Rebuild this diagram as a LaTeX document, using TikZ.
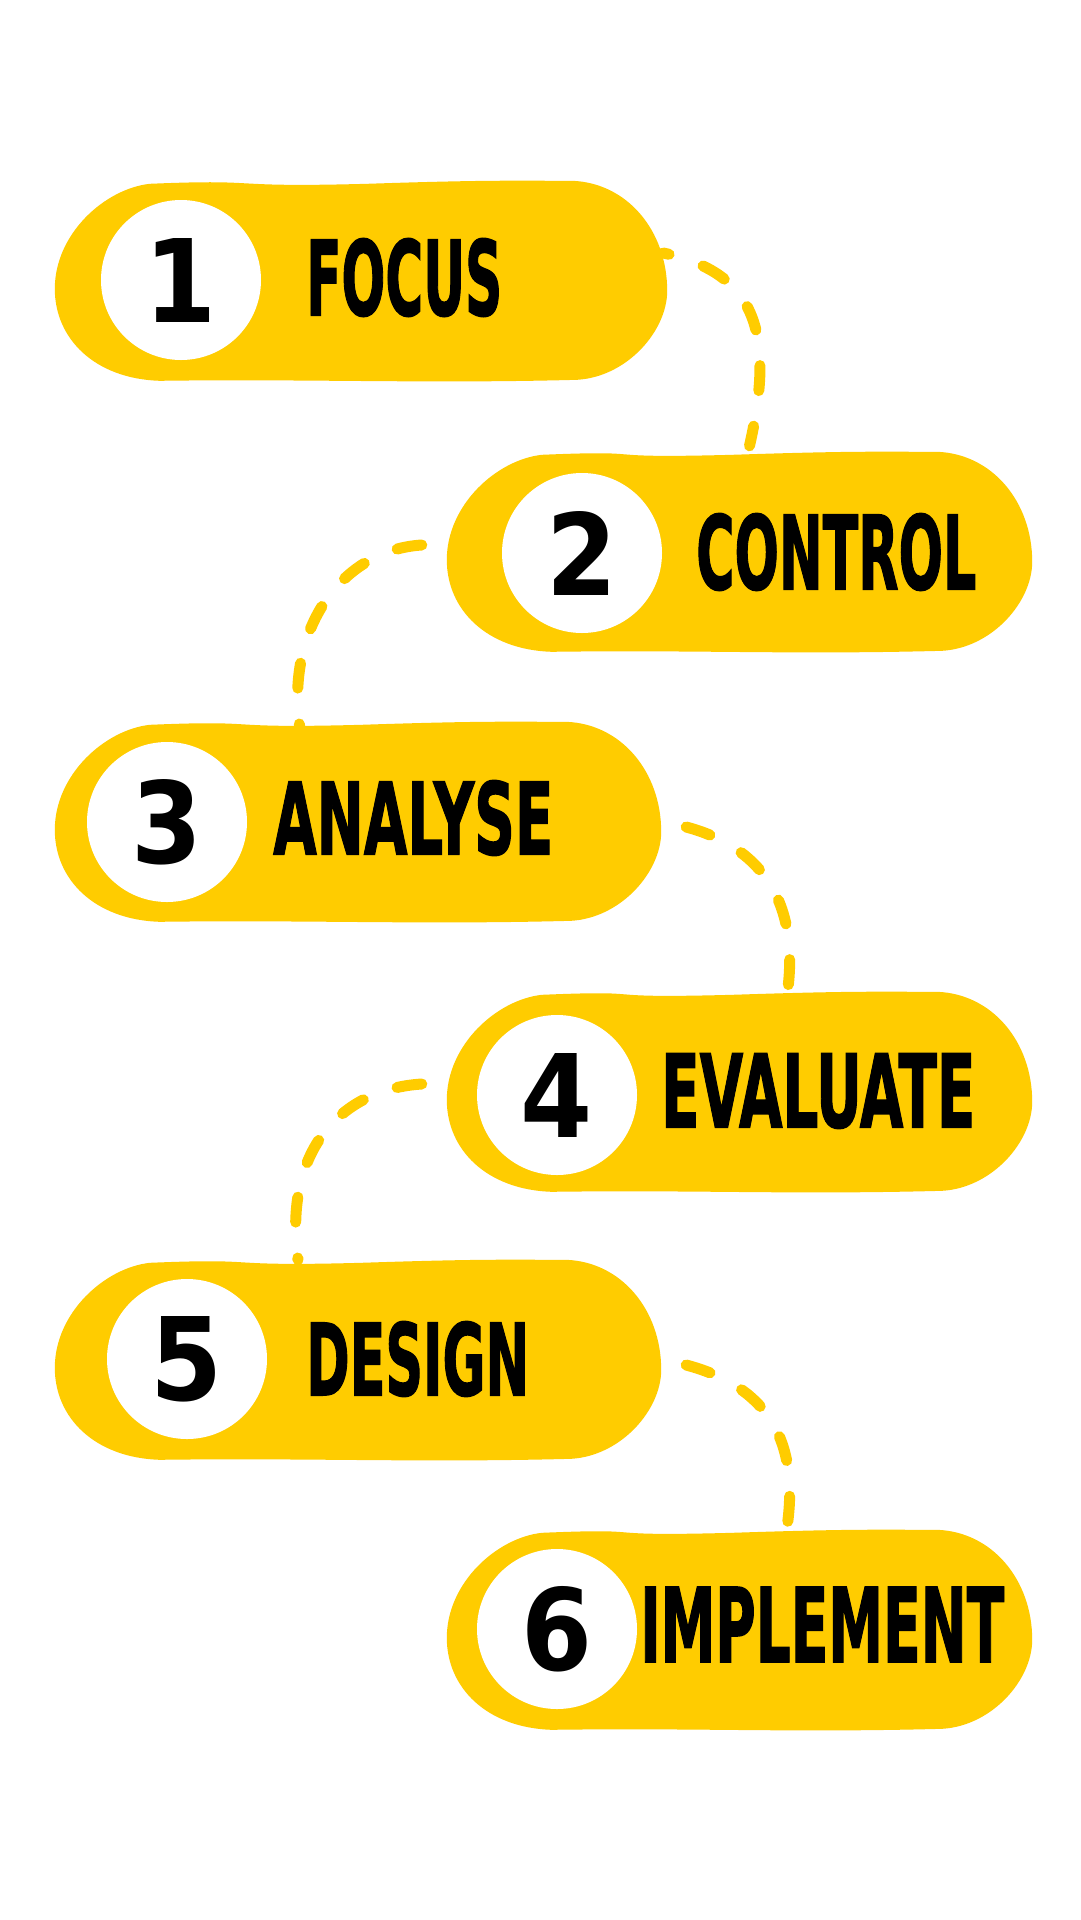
\documentclass[tikz,border=0pt]{standalone}
\usepackage{fontspec}
\usepackage{graphicx}
\newfontfamily\labelfont{DejaVu Sans Condensed}[BoldFeatures={FakeBold=1.5}]
\newfontfamily\numfont{DejaVu Sans}
\definecolor{blobyellow}{HTML}{FFCC00}

% filled blob behind a box node
\newcommand\blobfill[1]{%
  \fill[blobyellow] ([shift={(0,108)}]#1.north west)
    .. controls +(0,-55) and +(-45,5) .. ([shift={(95,3)}]#1.north west)
    .. controls +(120,-5) and +(-150,4) .. ([shift={(-300,3)}]#1.north east)
    .. controls +(120,-4) and +(-60,0) .. ([shift={(-95,0)}]#1.north east)
    .. controls +(55,2) and +(0,-60) .. ([shift={(0,110)}]#1.north east)
    .. controls +(0,40) and +(50,-3) .. ([shift={(-90,199)}]#1.north east)
    .. controls +(-150,4) and +(150,-2) .. ([shift={(105,200)}]#1.north west)
    .. controls +(-65,-2) and +(0,50) .. cycle;}
\newcommand\digit[1]{\scalebox{0.9}[1]{\resizebox{!}{84pt}{\numfont\bfseries #1}}}

\begin{document}
\begin{tikzpicture}
  [x=1pt,y=-1pt,every node/.style={inner sep=0pt},
   blob/.style={minimum height=200pt},
   disc/.style={circle,fill=white,minimum size=160pt},
   lab/.style={anchor=west,font=\labelfont\bfseries},
   link/.style={draw=blobyellow,line width=11pt,line cap=round,dash pattern=on 25pt off 36pt}]
  \fill[white] (0,0) rectangle (1080,1920);
  \useasboundingbox (0,0) rectangle (1080,1920);

  \node[blob,minimum width=612pt] (b1) at (361,281) {};
  \node[blob,minimum width=585pt] (b2) at (739.5,552) {};
  \node[blob,minimum width=606pt] (b3) at (358,822) {};
  \node[blob,minimum width=585pt] (b4) at (739.5,1092) {};
  \node[blob,minimum width=606pt] (b5) at (358,1360) {};
  \node[blob,minimum width=585pt] (b6) at (739.5,1630) {};
  \foreach \b in {b1,b2,b3,b4,b5,b6}
    \blobfill{\b};

  % dashed links
  \draw[link,dash phase=19pt] ([shift={(-4,-28)}]b1.east) .. controls +(95,20) and +(25,-110) .. ([shift={(10,-6)}]b2.north);
  \draw[link] ([shift={(-25,-7)}]b2.west) .. controls +(-80,5) and +(-15,-100) .. ([shift={(-58,7)}]b3.north);
  \draw[link] ([shift={(25,5)}]b3.east) .. controls +(75,20) and +(12,-90) .. ([shift={(48,0)}]b4.north);
  \draw[link] ([shift={(-25,-8)}]b4.west) .. controls +(-80,5) and +(-15,-110) .. ([shift={(-60,0)}]b5.north);
  \draw[link] ([shift={(25,5)}]b5.east) .. controls +(75,20) and +(12,-90) .. ([shift={(48,-6)}]b6.north);

  \node[disc] (c1) at (181,280) {\digit{1}};
  \node[disc] (c2) at (582,553) {\digit{2}};
  \node[disc] (c3) at (167,822) {\digit{3}};
  \node[disc] (c4) at (557,1095) {\digit{4}};
  \node[disc] (c5) at (187,1359) {\digit{5}};
  \node[disc] (c6) at (557,1629) {\digit{6}};

  \node[lab] (l1) at (306,277.5) {\resizebox{196pt}{77pt}{FOCUS}};
  \node[lab] (l2) at (696,552) {\resizebox{280pt}{76pt}{CONTROL}};
  \node[lab] (l3) at (273,818) {\resizebox{280pt}{74pt}{ANALYSE}};
  \node[lab] (l4) at (661,1091) {\resizebox{314pt}{74pt}{EVALUATE}};
  \node[lab] (l5) at (306,1359) {\resizebox{223pt}{74pt}{DESIGN}};
  \node[lab] (l6) at (640,1624.5) {\resizebox{364pt}{75pt}{IMPLEMENT}};
\end{tikzpicture}
\end{document}
